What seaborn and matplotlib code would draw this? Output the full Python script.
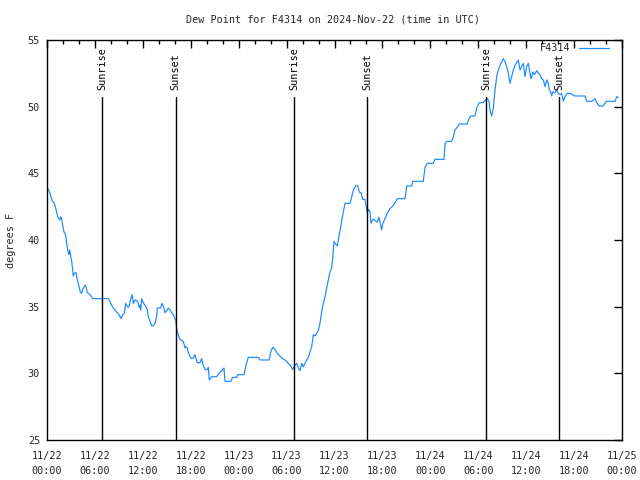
import matplotlib
matplotlib.use("Agg")
import matplotlib.pyplot as plt
import matplotlib.transforms as mtransforms
from matplotlib.ticker import MultipleLocator
import seaborn as sns
import pandas as pd

# ---- data (hours since 2024-11-22 00:00 UTC) ----
hours = [0.17, 0.38, 0.50, 0.67, 0.88, 1.04, 1.21, 1.34, 1.50, 1.63, 1.71, 1.84, 1.96, 2.13, 2.25, 2.38,
         2.46, 2.59, 2.75, 2.84, 2.96, 3.09, 3.21, 3.30, 3.38, 3.63, 3.76, 3.92, 4.05, 4.17, 4.34, 4.46,
         4.76, 4.88, 5.05, 5.30, 5.59, 5.68, 7.68, 7.89, 8.10, 8.30, 8.72, 8.93, 9.14, 9.27, 9.47, 9.68,
         9.85, 9.97, 10.18, 10.30, 10.47, 10.68, 10.80, 11.02, 11.23, 11.44, 11.56, 11.64, 11.73, 11.85,
         11.98, 12.15, 12.40, 12.56, 12.69, 12.90, 13.10, 13.31, 13.52, 13.73, 13.81, 14.23, 14.40, 14.57,
         14.78, 14.99, 15.19, 15.40, 15.61, 15.82, 16.03, 16.15, 16.24, 16.45, 16.65, 17.07, 17.28, 17.40,
         17.57, 17.70, 17.91, 18.12, 18.32, 18.53, 18.66, 18.82, 19.16, 19.37, 19.57, 19.78, 20.00, 20.20,
         20.32, 20.62, 21.25, 21.45, 21.87, 22.16, 22.29, 23.00, 23.25, 23.75, 23.88, 24.67, 24.92, 25.20,
         26.46, 26.67, 27.83, 28.01, 28.26, 28.55, 28.84, 29.18, 29.51, 29.80, 30.22, 30.51, 30.76, 31.06,
         31.26, 31.47, 31.68, 31.89, 32.09, 32.43, 32.72, 32.93, 33.14, 33.35, 33.56, 33.77, 33.97, 34.18,
         34.39, 34.60, 34.81, 35.02, 35.22, 35.43, 35.64, 35.77, 35.94, 36.15, 36.35, 36.48, 36.69, 36.90,
         37.10, 37.32, 37.94, 38.16, 38.36, 38.70, 38.91, 39.10, 39.32, 39.53, 39.82, 39.94, 40.11, 40.28,
         40.45, 40.57, 40.74, 40.95, 41.16, 41.37, 41.57, 41.70, 41.91, 42.03, 42.32, 42.61, 42.95, 43.29,
         43.58, 43.86, 44.83, 45.04, 45.67, 45.79, 47.12, 47.33, 47.62, 48.37, 48.59, 49.71, 49.84, 50.05,
         50.68, 50.88, 51.09, 51.30, 51.63, 52.63, 52.76, 53.06, 53.59, 53.80, 54.13, 54.63, 54.84, 55.14,
         55.35, 55.47, 55.68, 55.89, 56.10, 56.31, 56.51, 56.81, 57.14, 57.35, 57.56, 57.77, 57.98, 58.19,
         58.39, 58.60, 58.81, 59.02, 59.23, 59.44, 59.64, 59.85, 60.06, 60.27, 60.48, 60.61, 60.82, 61.02,
         61.32, 61.52, 61.73, 61.94, 62.15, 62.36, 62.57, 62.77, 62.90, 63.07, 63.20, 63.32, 63.61, 63.82,
         64.02, 64.23, 64.44, 64.65, 64.86, 65.15, 65.49, 66.12, 67.37, 67.58, 68.21, 68.62, 68.83, 69.16,
         69.66, 70.00, 71.13, 71.34, 71.55]
dewpoint = [43.8, 43.5, 43.25, 42.9, 42.8, 42.5, 42.1, 41.75, 41.6, 41.5, 41.75, 41.6, 41.1, 40.6, 40.5, 40.2,
            39.75, 39.25, 38.9, 39.25, 38.8, 38.4, 37.75, 37.3, 37.5, 37.55, 37.1, 36.75, 36.4, 36.1, 36.0, 36.3,
            36.6, 36.5, 36.05, 35.95, 35.75, 35.6, 35.6, 35.4, 35.1, 34.9, 34.6, 34.5, 34.25, 34.1, 34.4, 34.5,
            35.25, 35.1, 34.95, 35.1, 35.55, 35.9, 35.25, 35.5, 35.45, 35.25, 34.95, 35.1, 34.75, 35.6,
            35.4, 35.2, 35.0, 34.75, 34.25, 33.9, 33.6, 33.55, 33.75, 34.25, 34.9, 34.9, 35.25, 35.05,
            34.55, 34.7, 34.9, 34.75, 34.55, 34.4, 34.1, 33.9, 33.3, 32.85, 32.55, 32.4, 31.9, 32.0,
            31.9, 31.55, 31.25, 31.1, 31.15, 31.4, 31.1, 30.8, 30.8, 31.1, 30.6, 30.3, 30.25, 30.45,
            29.5, 29.75, 29.75, 29.95, 30.2, 30.4, 29.4, 29.4, 29.7, 29.7, 29.9, 29.9, 30.6, 31.2,
            31.2, 31.0, 31.0, 31.6, 31.95, 31.8, 31.5, 31.3, 31.1, 31.0, 30.75, 30.55, 30.3, 30.6,
            30.75, 30.4, 30.2, 30.75, 30.5, 30.9, 31.2, 31.6, 32.0, 32.9, 32.8, 33.0, 33.2, 33.75,
            34.6, 35.25, 35.75, 36.4, 37.0, 37.6, 37.9, 38.6, 39.9, 39.7, 39.55, 40.0, 40.75, 41.5,
            42.1, 42.75, 42.75, 43.25, 43.75, 44.1, 44.05, 43.6, 43.55, 43.05, 43.05, 42.6, 42.05, 42.3,
            42.1, 41.25, 41.5, 41.55, 41.4, 41.35, 41.7, 41.35, 40.75, 41.2, 41.6, 42.0, 42.35, 42.55,
            42.8, 43.1, 43.1, 44.05, 44.05, 44.4, 44.4, 45.45, 45.75, 45.75, 46.05, 46.05, 47.25, 47.4,
            47.4, 47.75, 48.25, 48.4, 48.7, 48.7, 49.0, 49.3, 49.3, 49.9, 50.3, 50.3, 50.45, 50.6,
            50.4, 49.75, 49.3, 49.9, 51.25, 52.25, 52.75, 53.2, 53.6, 53.4, 53.0, 52.5, 51.75, 52.25,
            52.75, 53.1, 53.3, 53.5, 52.75, 53.0, 53.25, 52.25, 53.0, 53.25, 52.5, 52.1, 52.6, 52.4,
            52.7, 52.5, 52.4, 52.1, 52.0, 51.5, 52.0, 51.75, 51.25, 51.1, 50.8, 51.1, 51.05, 51.25,
            51.0, 50.9, 51.0, 50.4, 50.75, 51.0, 51.0, 50.8, 50.8, 50.4, 50.4, 50.6, 50.3, 50.05,
            50.05, 50.4, 50.4, 50.75, 50.7]

series_name = "F4314"
sun_hours = [6.9, 16.12, 30.93, 40.1, 54.97, 64.15]
sun_labels = ["Sunrise", "Sunset", "Sunrise", "Sunset", "Sunrise", "Sunset"]
tick_hours = [0, 6, 12, 18, 24, 30, 36, 42, 48, 54, 60, 66, 72]
tick_labels = ["11/22\n00:00", "11/22\n06:00", "11/22\n12:00", "11/22\n18:00",
               "11/23\n00:00", "11/23\n06:00", "11/23\n12:00", "11/23\n18:00",
               "11/24\n00:00", "11/24\n06:00", "11/24\n12:00", "11/24\n18:00",
               "11/25\n00:00"]
title = "Dew Point for F4314 on 2024-Nov-22 (time in UTC)"
ylabel = "degrees F"

# ---- style ----
sns.set_style("white")
plt.rcParams["font.family"] = ["DejaVu Sans Mono"]
FS = 7.3

fig = plt.figure(figsize=(6.4, 4.8), dpi=100)
ax = fig.add_axes([47 / 640, 40 / 480, 575 / 640, 400 / 480])

df = pd.DataFrame({"hour": hours, "dew": dewpoint})
sns.lineplot(data=df, x="hour", y="dew", ax=ax, color="#1a88ff", linewidth=0.85,
             label=series_name, estimator=None, sort=False)

trans = mtransforms.blended_transform_factory(ax.transData, ax.transAxes)
for h, lab in zip(sun_hours, sun_labels):
    ax.axvline(h, ymin=0, ymax=0.857, color="black", linewidth=1.0)
    ax.text(h, 0.875, lab, rotation=90, ha="center", va="bottom",
            transform=trans, fontsize=FS, color="black")

ax.set_xlim(0, 72)
ax.set_ylim(25, 55)
ax.set_xticks(tick_hours)
ax.set_xticklabels(tick_labels, fontsize=FS, linespacing=1.6)
ax.xaxis.set_minor_locator(MultipleLocator(2))
ax.set_yticks([25, 30, 35, 40, 45, 50, 55])
ax.tick_params(axis="y", labelsize=FS)
ax.tick_params(which="both", direction="in", top=True, right=True, width=1.0, color="black")
ax.tick_params(which="major", length=6)
ax.tick_params(which="minor", length=3)
ax.tick_params(axis="x", which="major", pad=8)
ax.tick_params(axis="y", which="major", pad=5)
ax.set_xlabel("")
ax.set_ylabel(ylabel, fontsize=FS)
ax.yaxis.set_label_coords(-31 / 575, 0.5)
for s in ax.spines.values():
    s.set_color("black")
    s.set_linewidth(1.0)
    s.set_visible(True)

leg = ax.legend(loc="upper right", bbox_to_anchor=(1 - 9 / 575, 1 + 1 / 400),
                frameon=False, markerfirst=False, fontsize=FS,
                handlelength=3.0, handletextpad=0.8, borderaxespad=0.0)

fig.text(333 / 640, 1 - 20 / 480, title, ha="center", va="center", fontsize=FS)

fig.savefig("out.png", dpi=100)
